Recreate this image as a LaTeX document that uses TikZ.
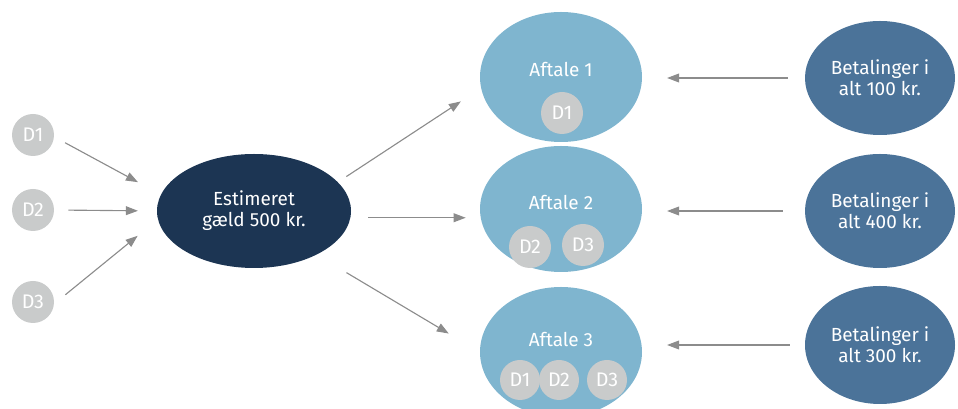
\documentclass[tikz,border=0pt]{standalone}
\usepackage{fontspec}
\setmainfont{Fira Sans}
\usetikzlibrary{shapes.geometric,arrows.meta}
\definecolor{estnavy}{HTML}{1C3553}
\definecolor{dealblue}{HTML}{7FB5CF}
\definecolor{paysteel}{HTML}{4B7399}
\definecolor{dgray}{HTML}{C9CBCB}
\definecolor{arrgray}{HTML}{8C8C8C}

\begin{document}
\begin{tikzpicture}[
	debt/.style={circle,fill=dgray,text=white,minimum size=1.05cm,inner sep=0pt,font=\fontsize{14}{16}\selectfont},
	blob/.style={ellipse,inner sep=0pt,text=white,align=center,font=\fontsize{13.5}{15}\selectfont},
	arr/.style={draw=arrgray,line width=0.8pt,-{Triangle[length=0.3cm,width=0.22cm]}}
]
\clip (0,0) rectangle (23.95,10.225);
\useasboundingbox (0,0) rectangle (23.95,10.225);
% debts
\node[debt] (d1) at (0.825,6.85) {D1};
\node[debt] (d2) at (0.825,4.975) {D2};
\node[debt] (d3) at (0.825,2.675) {D3};
% estimate
\node[blob,fill=estnavy,minimum width=4.85cm,minimum height=2.85cm] (est) at (6.35,4.95) {Estimeret\\gæld 500 kr.};
% agreements
\node[blob,fill=dealblue,minimum width=4.05cm,minimum height=3.25cm] (a1) at (14.025,8.3) {};
\node[blob,fill=dealblue,minimum width=4.05cm,minimum height=3.15cm] (a2) at (14.025,5.0) {};
\node[blob,fill=dealblue,minimum width=4.05cm,minimum height=3.25cm] (a3) at (14.025,1.425) {};
\node[blob] (t1) at (14.025,8.475) {Aftale 1};
\node[blob] (t2) at (14.025,5.15) {Aftale 2};
\node[blob] (t3) at (14.025,1.725) {Aftale 3};
\node[debt] (a1d1) at (14.05,7.4) {D1};
\node[debt] (a2d2) at (13.25,4.05) {D2};
\node[debt] (a2d3) at (14.575,4.1) {D3};
\node[debt,minimum size=1.0cm] (a3d1) at (13.0,0.725) {D1};
\node[debt,minimum size=1.0cm] (a3d2) at (13.975,0.725) {D2};
\node[debt,minimum size=1.0cm] (a3d3) at (15.175,0.725) {D3};
% payments
\node[blob,fill=paysteel,minimum width=3.75cm,minimum height=2.85cm] (b1) at (22.0,8.275) {Betalinger i\\alt 100 kr.};
\node[blob,fill=paysteel,minimum width=3.75cm,minimum height=2.85cm] (b2) at (22.0,4.95) {Betalinger i\\alt 400 kr.};
\node[blob,fill=paysteel,minimum width=3.75cm,minimum height=2.95cm] (b3) at (22.0,1.6) {Betalinger i\\alt 300 kr.};
% arrows
\draw[arr,shorten <=0.31cm,shorten >=0.65cm] (d1.-5) -- (est.170);
\draw[arr,shorten <=0.35cm,shorten >=0.47cm] (d2.east) -- (est.west);
\draw[arr,shorten <=0.36cm,shorten >=0.65cm] (d3.-5) -- (est.185);
\draw[arr,shorten <=0.25cm,shorten >=0.6cm] (est.19.5) -- (a1.188);
\draw[arr,shorten <=0.44cm,shorten >=0.35cm] (est.-4) -- (est.-4 -| a2.west);
\draw[arr,shorten <=0.87cm,shorten >=0.9cm] (est.-35) -- (a3.west);
\draw[arr,shorten <=0.42cm,shorten >=0.62cm] (b1.west) -- (b1.west -| a1.east);
\draw[arr,shorten <=0.55cm,shorten >=0.62cm] (b2.west) -- (b2.west -| a2.east);
\draw[arr,shorten <=0.37cm,shorten >=0.62cm] (b3.west) -- (b3.west -| a3.east);
\end{tikzpicture}
\end{document}
